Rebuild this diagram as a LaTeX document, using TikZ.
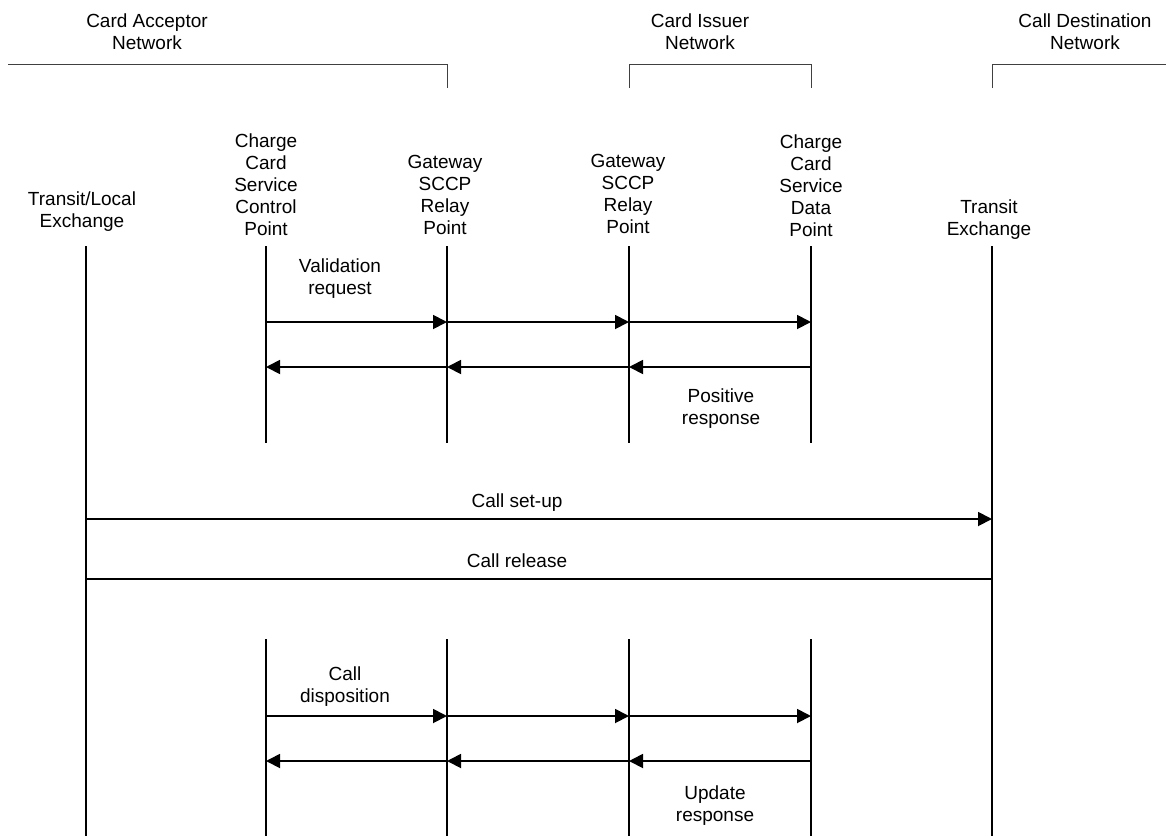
\documentclass[tikz,border=0pt]{standalone}
\usepackage{fontspec}
\setmainfont{Liberation Sans}
\usetikzlibrary{arrows.meta}
\usetikzlibrary{positioning}

\begin{document}
\begin{tikzpicture}[x=1pt, y=-1pt,
		every node/.style={font=\fontsize{19}{22}\selectfont, align=center, inner sep=0pt, anchor=south},
		lifeline/.style={draw, line width=1.8pt},
		bracket/.style={draw, line width=1pt, black!75},
		msg/.style={draw, line width=1.8pt, -{Triangle[length=14pt, width=14pt]}}]
			\useasboundingbox (0,0) rectangle (1166,836);
			% networks
			\node (cardacc) at (147,50) {Card Acceptor\\Network};
			\node (cardiss) at (700,50) {Card Issuer\\Network};
			\node (calldest) at (1085,50) {Call Destination\\Network};
			\path[bracket] (8,64) -| (447,88);
			\path[bracket] (629,88) |- (811,64) -- (811,88);
			\path[bracket] (992,88) |- (1166,64);
			% entities
			\node (tlelabel) at (82,232) {Transit/Local\\Exchange};
			\node (ccscplabel) at (266,236) {Charge\\Card\\Service\\Control\\Point};
			\node (gwalabel) at (445,235) {Gateway\\SCCP\\Relay\\Point};
			\node (gwblabel) at (628,234) {Gateway\\SCCP\\Relay\\Point};
			\node (ccsdplabel) at (811,237) {Charge\\Card\\Service\\Data\\Point};
			\node (telabel) at (989,240) {Transit\\Exchange};
			\coordinate (tle) at (86,246);
			\coordinate (ccscp) at (266,246);
			\coordinate (gwa) at (447,246);
			\coordinate (gwb) at (629,246);
			\coordinate (ccsdp) at (811,246);
			\coordinate (te) at (992,246);
			% rows
			\coordinate (top) at (0,246);
			\coordinate (gap1) at (0,443);
			\coordinate (gap2) at (0,639);
			\coordinate (bottom) at (0,836);
			\coordinate (valrow) at (0,322);
			\coordinate (posrow) at (0,367);
			\coordinate (setuprow) at (0,519);
			\coordinate (relrow) at (0,579);
			\coordinate (disprow) at (0,716);
			\coordinate (updrow) at (0,761);
			% lifelines
			\path[lifeline] (tle) -- (tle |- bottom);
			\path[lifeline] (te) -- (te |- bottom);
			\foreach \e in {ccscp, gwa, gwb, ccsdp} {
				\path[lifeline] (\e) -- (\e |- gap1);
				\path[lifeline] (\e |- gap2) -- (\e |- bottom);
			}
			% validation
			\path[msg] (ccscp |- valrow) -- (gwa |- valrow);
			\path[msg] (gwa |- valrow) -- (gwb |- valrow);
			\path[msg] (gwb |- valrow) -- (ccsdp |- valrow);
			\path[msg] (ccsdp |- posrow) -- (gwb |- posrow);
			\path[msg] (gwb |- posrow) -- (gwa |- posrow);
			\path[msg] (gwa |- posrow) -- (ccscp |- posrow);
			\node (valreq) at (340,299) {Validation\\request};
			\node (posresp) at (721,429) {Positive\\response};
			% call
			\path[msg] (tle |- setuprow) -- (te |- setuprow);
			\path[lifeline] (te |- relrow) -- (tle |- relrow);
			\node (callsetup) at (517,512) {Call set-up};
			\node (callrel) at (517,568) {Call release};
			% disposition
			\path[msg] (ccscp |- disprow) -- (gwa |- disprow);
			\path[msg] (gwa |- disprow) -- (gwb |- disprow);
			\path[msg] (gwb |- disprow) -- (ccsdp |- disprow);
			\path[msg] (ccsdp |- updrow) -- (gwb |- updrow);
			\path[msg] (gwb |- updrow) -- (gwa |- updrow);
			\path[msg] (gwa |- updrow) -- (ccscp |- updrow);
			\node (calldisp) at (345,707) {Call\\disposition};
			\node (updresp) at (715,826) {Update\\response};
		\end{tikzpicture}
\end{document}
